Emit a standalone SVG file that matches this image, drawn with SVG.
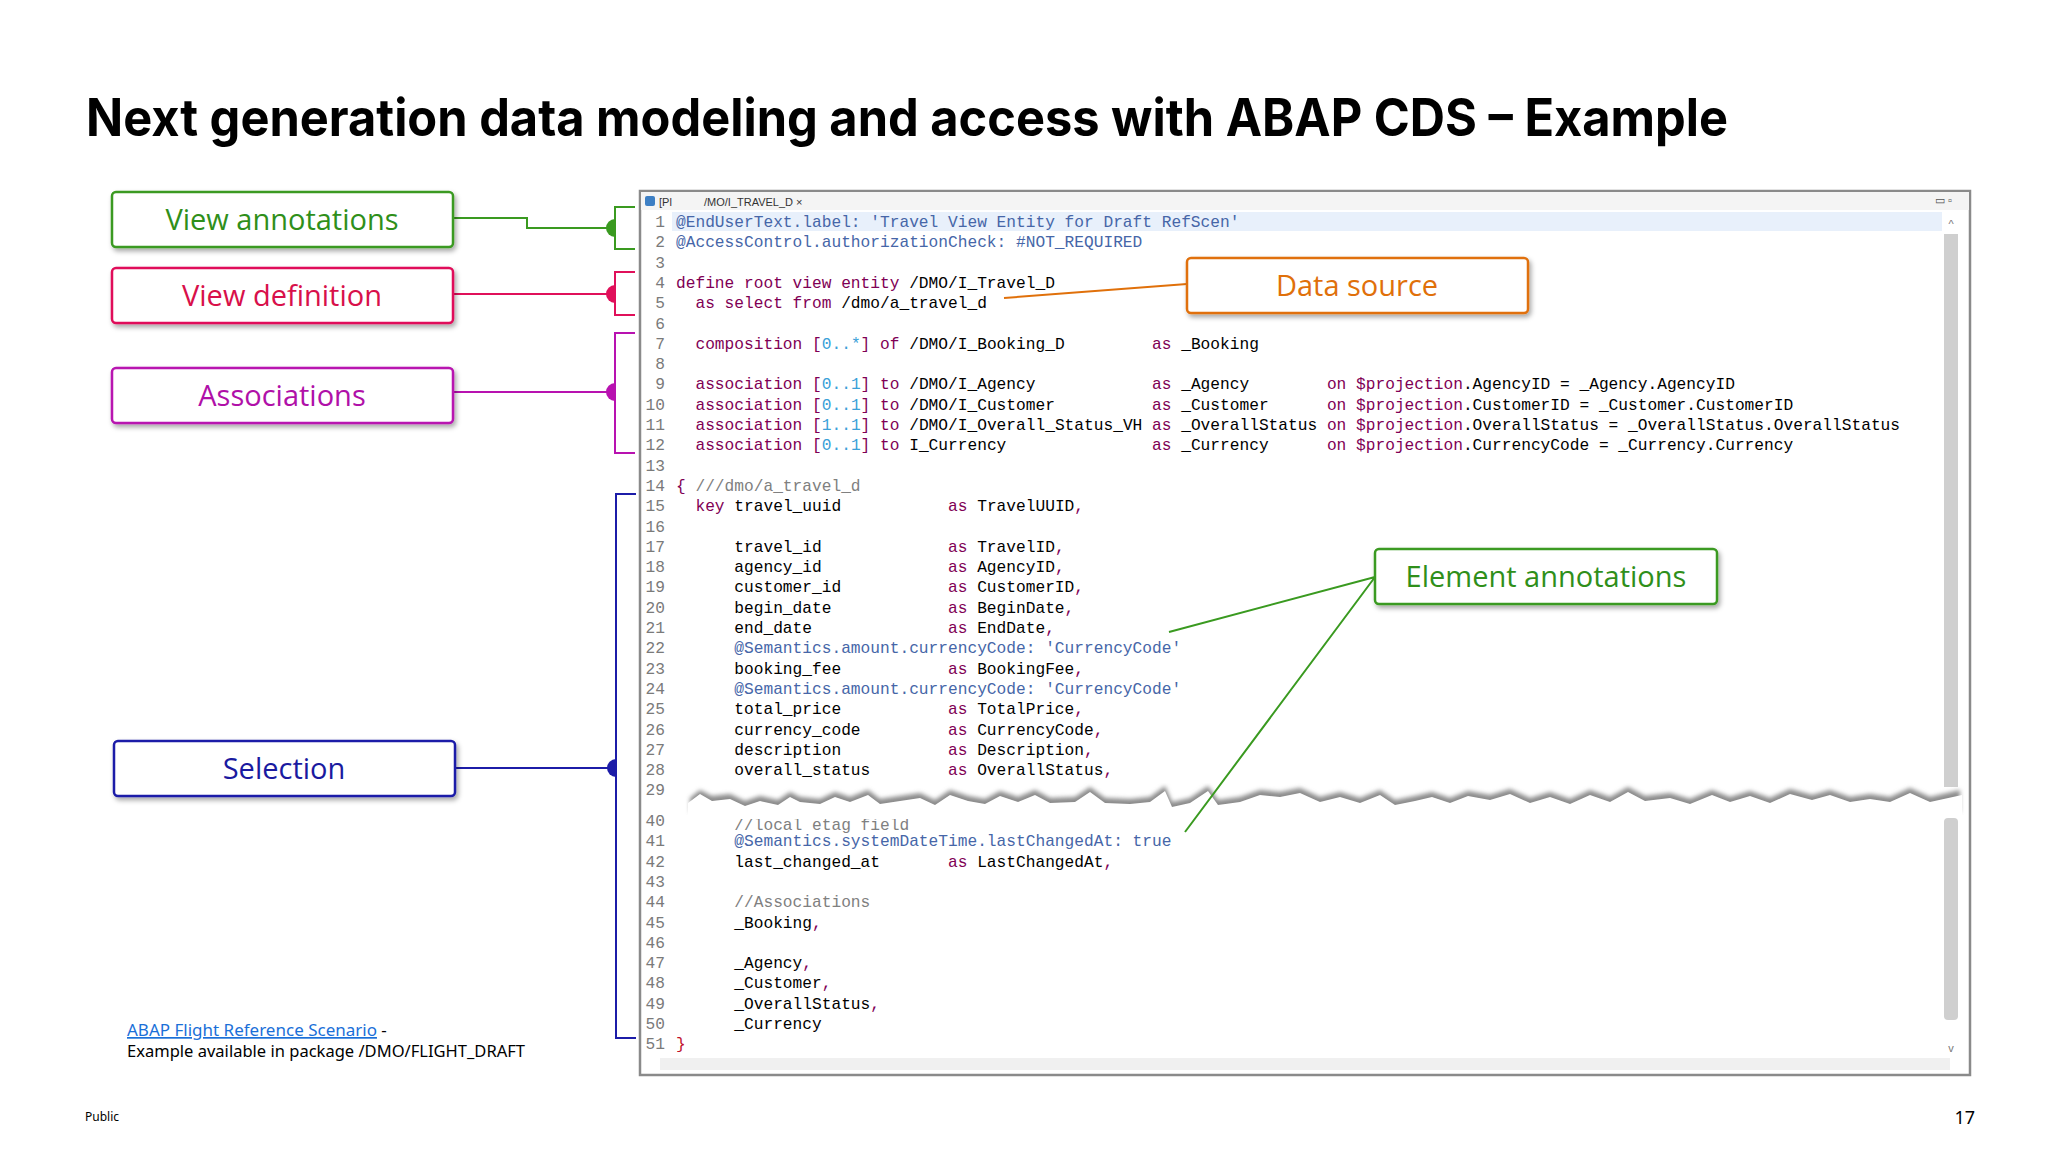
<svg xmlns="http://www.w3.org/2000/svg" width="2048" height="1152" viewBox="0 0 2048 1152">
<style>
.box{fill:#fff;stroke-width:2.5}
.bt{font-family:"Open Sans","Noto Sans",sans-serif;font-size:29px;text-anchor:middle}
.code text{font-family:"Liberation Mono",monospace;font-size:16.2px;white-space:pre}
.code{fill:#000}
.ln{font-family:"Liberation Mono",monospace;font-size:16.2px;fill:#7a7a7a;text-anchor:end}
.k{fill:#7f0055}.a{fill:#4666a8}.n{fill:#3aa0d8}.c{fill:#808080}
.conn{fill:none;stroke-width:2}
</style>
<defs>
<filter id="sh" x="-10%" y="-20%" width="130%" height="150%"><feDropShadow dx="2" dy="3" stdDeviation="2.5" flood-color="#000" flood-opacity="0.35"/></filter>
<filter id="tsh"><feGaussianBlur stdDeviation="2"/></filter>
<clipPath id="cl40"><rect x="660" y="819" width="600" height="20"/></clipPath>
</defs>
<rect width="2048" height="1152" fill="#fff"/>
<text x="86" y="136" font-family="Inter,'Liberation Sans',sans-serif" font-weight="bold" font-size="52" textLength="1642" lengthAdjust="spacingAndGlyphs" fill="#000">Next generation data modeling and access with ABAP CDS – Example</text>

<g id="editor">
<rect x="640" y="191" width="1330" height="884" fill="#fff" stroke="#8a8a8a" stroke-width="2.5"/>
<rect x="641" y="192" width="1328" height="18" fill="#f4f4f4"/>
<rect x="645" y="196" width="10" height="10" rx="2" fill="#3d7fc4"/>
<text x="659" y="206" font-family="'Liberation Sans',sans-serif" font-size="11" fill="#333">[Pl</text>
<text x="704" y="206" font-family="'Liberation Sans',sans-serif" font-size="11" fill="#333">/MO/I_TRAVEL_D ×</text>
<text x="1935" y="204" font-family="'Liberation Sans',sans-serif" font-size="11" fill="#555">▭ ▫</text>
<rect x="672" y="212" width="1270" height="19" fill="#e8f0fb"/>
<rect x="1944" y="234" width="14" height="553" fill="#cfcfcf"/>
<rect x="1944" y="818" width="14" height="202" rx="4" fill="#cfcfcf"/>
<text x="1951" y="228" font-family="'Liberation Sans',sans-serif" font-size="11" fill="#777" text-anchor="middle">^</text>
<text x="1951" y="1052" font-family="'Liberation Sans',sans-serif" font-size="11" fill="#777" text-anchor="middle">v</text>
<rect x="660" y="1058" width="1290" height="12" fill="#f0f0f0"/>
</g>

<g id="code">
<g class="ln">
<text x="665" y="227">1</text><text x="665" y="247.3">2</text><text x="665" y="267.6">3</text><text x="665" y="287.9">4</text><text x="665" y="308.2">5</text><text x="665" y="328.5">6</text><text x="665" y="348.8">7</text><text x="665" y="369.1">8</text><text x="665" y="389.4">9</text><text x="665" y="409.7">10</text><text x="665" y="430">11</text><text x="665" y="450.3">12</text><text x="665" y="470.6">13</text><text x="665" y="490.9">14</text><text x="665" y="511.2">15</text><text x="665" y="531.5">16</text><text x="665" y="551.8">17</text><text x="665" y="572.1">18</text><text x="665" y="592.4">19</text><text x="665" y="612.7">20</text><text x="665" y="633">21</text><text x="665" y="653.3">22</text><text x="665" y="673.6">23</text><text x="665" y="693.9">24</text><text x="665" y="714.2">25</text><text x="665" y="734.5">26</text><text x="665" y="754.8">27</text><text x="665" y="775.1">28</text><text x="665" y="795.4">29</text>
<text x="665" y="826">40</text><text x="665" y="846.3">41</text><text x="665" y="866.6">42</text><text x="665" y="886.9">43</text><text x="665" y="907.2">44</text><text x="665" y="927.5">45</text><text x="665" y="947.8">46</text><text x="665" y="968.1">47</text><text x="665" y="988.4">48</text><text x="665" y="1008.7">49</text><text x="665" y="1029">50</text><text x="665" y="1049.3">51</text>
</g>
<g class="code">
<text xml:space="preserve" x="676" y="227" class="a">@EndUserText.label: 'Travel View Entity for Draft RefScen'</text>
<text xml:space="preserve" x="676" y="247.3" class="a">@AccessControl.authorizationCheck: #NOT_REQUIRED</text>
<text xml:space="preserve" x="676" y="287.9"><tspan class="k">define root view entity</tspan> /DMO/I_Travel_D</text>
<text xml:space="preserve" x="676" y="308.2">  <tspan class="k">as select from</tspan> /dmo/a_travel_d</text>
<text xml:space="preserve" x="676" y="348.8">  <tspan class="k">composition [</tspan><tspan class="n">0..*</tspan><tspan class="k">] of</tspan> /DMO/I_Booking_D         <tspan class="k">as</tspan> _Booking</text>
<text xml:space="preserve" x="676" y="389.4">  <tspan class="k">association [</tspan><tspan class="n">0..1</tspan><tspan class="k">] to</tspan> /DMO/I_Agency            <tspan class="k">as</tspan> _Agency        <tspan class="k">on $projection</tspan>.AgencyID = _Agency.AgencyID</text>
<text xml:space="preserve" x="676" y="409.7">  <tspan class="k">association [</tspan><tspan class="n">0..1</tspan><tspan class="k">] to</tspan> /DMO/I_Customer          <tspan class="k">as</tspan> _Customer      <tspan class="k">on $projection</tspan>.CustomerID = _Customer.CustomerID</text>
<text xml:space="preserve" x="676" y="430">  <tspan class="k">association [</tspan><tspan class="n">1..1</tspan><tspan class="k">] to</tspan> /DMO/I_Overall_Status_VH <tspan class="k">as</tspan> _OverallStatus <tspan class="k">on $projection</tspan>.OverallStatus = _OverallStatus.OverallStatus</text>
<text xml:space="preserve" x="676" y="450.3">  <tspan class="k">association [</tspan><tspan class="n">0..1</tspan><tspan class="k">] to</tspan> I_Currency               <tspan class="k">as</tspan> _Currency      <tspan class="k">on $projection</tspan>.CurrencyCode = _Currency.Currency</text>
<text xml:space="preserve" x="676" y="490.9"><tspan class="k">{</tspan> <tspan class="c">///dmo/a_travel_d</tspan></text>
<text xml:space="preserve" x="676" y="511.2">  <tspan class="k">key</tspan> travel_uuid           <tspan class="k">as</tspan> TravelUUID<tspan class="k">,</tspan></text>
<text xml:space="preserve" x="676" y="551.8">      travel_id             <tspan class="k">as</tspan> TravelID<tspan class="k">,</tspan></text>
<text xml:space="preserve" x="676" y="572.1">      agency_id             <tspan class="k">as</tspan> AgencyID<tspan class="k">,</tspan></text>
<text xml:space="preserve" x="676" y="592.4">      customer_id           <tspan class="k">as</tspan> CustomerID<tspan class="k">,</tspan></text>
<text xml:space="preserve" x="676" y="612.7">      begin_date            <tspan class="k">as</tspan> BeginDate<tspan class="k">,</tspan></text>
<text xml:space="preserve" x="676" y="633">      end_date              <tspan class="k">as</tspan> EndDate<tspan class="k">,</tspan></text>
<text xml:space="preserve" x="676" y="653.3">      <tspan class="a">@Semantics.amount.currencyCode: 'CurrencyCode'</tspan></text>
<text xml:space="preserve" x="676" y="673.6">      booking_fee           <tspan class="k">as</tspan> BookingFee<tspan class="k">,</tspan></text>
<text xml:space="preserve" x="676" y="693.9">      <tspan class="a">@Semantics.amount.currencyCode: 'CurrencyCode'</tspan></text>
<text xml:space="preserve" x="676" y="714.2">      total_price           <tspan class="k">as</tspan> TotalPrice<tspan class="k">,</tspan></text>
<text xml:space="preserve" x="676" y="734.5">      currency_code         <tspan class="k">as</tspan> CurrencyCode<tspan class="k">,</tspan></text>
<text xml:space="preserve" x="676" y="754.8">      description           <tspan class="k">as</tspan> Description<tspan class="k">,</tspan></text>
<text xml:space="preserve" x="676" y="775.1">      overall_status        <tspan class="k">as</tspan> OverallStatus<tspan class="k">,</tspan></text>
<text xml:space="preserve" x="676" y="830" class="c" clip-path="url(#cl40)">      //local etag field</text>
<text xml:space="preserve" x="676" y="846.3">      <tspan class="a">@Semantics.systemDateTime.lastChangedAt: true</tspan></text>
<text xml:space="preserve" x="676" y="866.6">      last_changed_at       <tspan class="k">as</tspan> LastChangedAt<tspan class="k">,</tspan></text>
<text xml:space="preserve" x="676" y="907.2">      <tspan class="c">//Associations</tspan></text>
<text xml:space="preserve" x="676" y="927.5">      _Booking<tspan class="k">,</tspan></text>
<text xml:space="preserve" x="676" y="968.1">      _Agency<tspan class="k">,</tspan></text>
<text xml:space="preserve" x="676" y="988.4">      _Customer<tspan class="k">,</tspan></text>
<text xml:space="preserve" x="676" y="1008.7">      _OverallStatus<tspan class="k">,</tspan></text>
<text xml:space="preserve" x="676" y="1029">      _Currency</text>
<text x="676" y="1049.3" fill="#c0102a">}</text>
</g>
</g>

<g id="tear">
<path filter="url(#tsh)" fill="#8c8c8c" d="M690,798 L700,790 L712,796 L730,794 L745,801 L760,796 L778,800 L790,792 L800,797 L820,799 L835,792 L850,797 L868,790 L880,799 L900,796 L920,793 L935,800 L950,790 L968,796 L985,799 L1000,791 L1018,797 L1035,790 L1050,798 L1075,797 L1090,787 L1105,798 L1130,799 L1150,797 L1165,786 L1172,802 L1190,798 L1208,786 L1218,800 L1240,797 L1260,790 L1280,792 L1300,788 L1320,797 L1340,792 L1360,798 L1380,790 L1395,800 L1415,796 L1432,792 L1450,798 L1468,791 L1490,795 L1510,789 L1530,798 L1550,792 L1570,799 L1590,790 L1610,797 L1628,787 L1645,796 L1670,793 L1690,799 L1712,790 L1730,797 L1750,791 L1770,798 L1790,789 L1812,795 L1830,790 L1850,797 L1870,794 L1890,797 L1910,788 L1930,797 L1960,790 L1960,812 L690,812 Z"/>
<path fill="#fff" d="M688,803 L700,794 L712,801 L730,799 L745,806 L760,801 L778,805 L790,797 L800,802 L820,804 L835,797 L850,802 L868,795 L880,804 L900,801 L920,798 L935,805 L950,795 L968,801 L985,804 L1000,796 L1018,802 L1035,795 L1050,803 L1075,802 L1090,792 L1105,803 L1130,804 L1150,802 L1165,791 L1172,807 L1190,803 L1208,791 L1218,805 L1240,802 L1260,795 L1280,797 L1300,793 L1320,802 L1340,797 L1360,803 L1380,795 L1395,805 L1415,801 L1432,797 L1450,803 L1468,796 L1490,800 L1510,794 L1530,803 L1550,797 L1570,804 L1590,795 L1610,802 L1628,792 L1645,801 L1670,798 L1690,804 L1712,795 L1730,802 L1750,796 L1770,803 L1790,794 L1812,800 L1830,795 L1850,802 L1870,799 L1890,802 L1910,793 L1930,802 L1962,795 L1962,816 L688,816 Z"/>
</g>

<g id="connectors">
<path class="conn" stroke="#3a9a20" d="M453,218 H527 V228 H615 M635,207 H615 V249 H635"/>
<path d="M615,219 A9,9 0 0 0 615,237 Z" fill="#3a9a20"/>
<path class="conn" stroke="#e0105a" d="M453,294 H615 M635,272 H615 V315 H635"/>
<path d="M615,285 A9,9 0 0 0 615,303 Z" fill="#e0105a"/>
<path class="conn" stroke="#b812b0" d="M453,392 H615 M635,333 H615 V453 H635"/>
<path d="M615,383 A9,9 0 0 0 615,401 Z" fill="#b812b0"/>
<path class="conn" stroke="#1c1ca8" d="M455,768 H616 M636,494 H616 V1038 H636"/>
<path d="M616,759 A9,9 0 0 0 616,777 Z" fill="#1c1ca8"/>
<path class="conn" stroke="#e0700a" d="M1187,284 L1004,298"/>
<path class="conn" stroke="#3a9a20" d="M1375,577 L1169,632 M1375,577 L1185,832"/>
</g>

<g id="n-view-annotations"><rect class="box" x="112" y="192" width="341" height="55" rx="4" stroke="#3a9a20" filter="url(#sh)"/><text class="bt" x="282" y="230" fill="#2f8f1a">View annotations</text></g>
<g id="n-view-definition"><rect class="box" x="112" y="268" width="341" height="55" rx="4" stroke="#e0105a" filter="url(#sh)"/><text class="bt" x="282" y="306" fill="#d8104a">View definition</text></g>
<g id="n-associations"><rect class="box" x="112" y="368" width="341" height="55" rx="4" stroke="#b812b0" filter="url(#sh)"/><text class="bt" x="282" y="406" fill="#b010a8">Associations</text></g>
<g id="n-selection"><rect class="box" x="114" y="741" width="341" height="55" rx="4" stroke="#1c1ca8" filter="url(#sh)"/><text class="bt" x="284" y="779" fill="#1a1aa0">Selection</text></g>
<g id="n-data-source"><rect class="box" x="1187" y="258" width="341" height="55" rx="4" stroke="#e0700a" filter="url(#sh)"/><text class="bt" x="1357" y="296" fill="#e0700a">Data source</text></g>
<g id="n-element-annotations"><rect class="box" x="1375" y="549" width="342" height="55" rx="4" stroke="#3a9a20" filter="url(#sh)"/><text class="bt" x="1546" y="587" fill="#2f8f1a">Element annotations</text></g>

<g id="footer" font-family="'Noto Sans','Liberation Sans',sans-serif">
<text x="127" y="1036" font-size="17" fill="#000"><tspan fill="#1a6fd8" text-decoration="underline">ABAP Flight Reference Scenario</tspan> -</text>
<text x="127" y="1057" font-size="17" fill="#000" textLength="398" lengthAdjust="spacingAndGlyphs">Example available in package /DMO/FLIGHT_DRAFT</text>
<text x="85" y="1121" font-size="12" fill="#000">Public</text>
<text x="1975" y="1124" font-size="18" fill="#000" text-anchor="end">17</text>
</g>
</svg>
